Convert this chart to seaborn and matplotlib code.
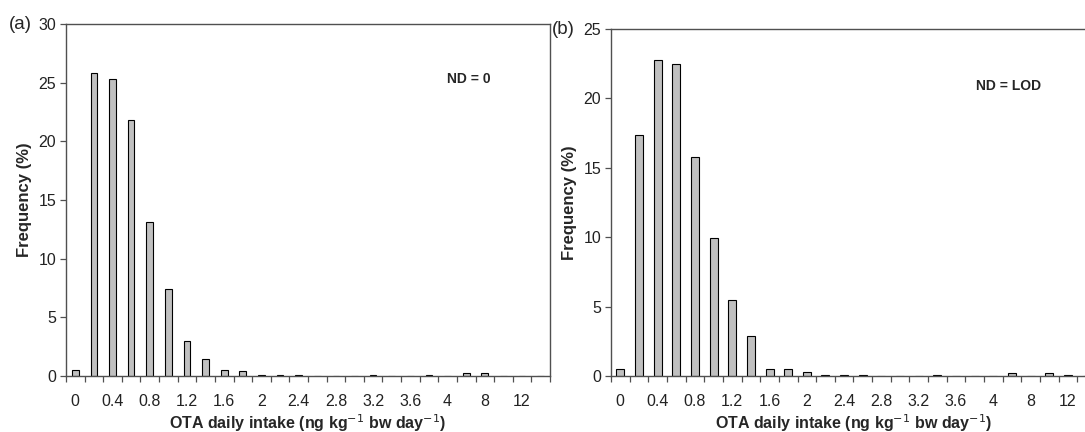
import numpy as np
import pandas as pd
import matplotlib
matplotlib.use("Agg")
import matplotlib.pyplot as plt
import seaborn as sns

# categorias del eje x (intervalos de ingesta)
categorias = ["0", "0.2", "0.4", "0.6", "0.8", "1", "1.2", "1.4", "1.6", "1.8",
              "2", "2.2", "2.4", "2.6", "2.8", "3", "3.2", "3.4", "3.6", "3.8",
              "4", "6", "8", "10", "12", "14"]

# frecuencias (%) panel a: ND = 0
freq_nd0 = [0.5, 25.8, 25.3, 21.8, 13.1, 7.4, 2.95, 1.45, 0.55, 0.4,
            0.12, 0.12, 0.12, 0, 0, 0, 0.1, 0, 0, 0.1,
            0, 0.28, 0.28, 0, 0, 0]

# frecuencias (%) panel b: ND = LOD
freq_lod = [0.5, 17.4, 22.8, 22.5, 15.75, 9.95, 5.5, 2.9, 0.5, 0.5,
            0.28, 0.08, 0.08, 0.08, 0, 0, 0, 0.08, 0, 0,
            0, 0.2, 0, 0.2, 0.1, 0]

sns.set_style("white")
plt.rcParams['font.family'] = ['Liberation Sans', 'DejaVu Sans']

fig = plt.figure(figsize=(10.85, 4.32), dpi=100)
ax_a = fig.add_axes([0.0608, 0.1296, 0.4461, 0.8148])
ax_b = fig.add_axes([0.5631, 0.1296, 0.4470, 0.8032])

color_linea = '#505050'
paneles = [
    (ax_a, freq_nd0, 30, "ND = 0", 0.36, (0.833, 0.843)),
    (ax_b, freq_lod, 25, "ND = LOD", 0.43, (0.82, 0.835)),
]

for ax, freq, ymax, nota, ancho, pos_nota in paneles:
    df = pd.DataFrame({'intake': categorias, 'freq': freq})
    sns.barplot(data=df, x='intake', y='freq', order=categorias, ax=ax,
                color='#c0c0c0', edgecolor='black', linewidth=0.8,
                width=ancho, saturation=1)
    ax.set_xlim(-0.5, len(categorias) - 0.5)
    ax.set_ylim(0, ymax)
    ax.set_yticks(np.arange(0, ymax + 1, 5))
    ax.set_xticks(range(0, len(categorias), 2), categorias[::2])
    ax.set_xticks(np.arange(-0.5, len(categorias), 1), minor=True)
    ax.tick_params(axis='x', which='major', length=0, pad=13, labelsize=11.5,
                   colors='#222222')
    ax.tick_params(axis='x', which='minor', length=4, width=0.9, direction='out',
                   color=color_linea, bottom=True)
    ax.tick_params(axis='y', length=4, width=0.9, direction='out', left=True,
                   pad=3, labelsize=11.5, colors='#222222')
    ax.tick_params(axis='y', color=color_linea)
    for lado in ax.spines.values():
        lado.set_visible(True)
        lado.set_color(color_linea)
        lado.set_linewidth(1.0)
    ax.set_xlabel("OTA daily intake (ng kg$^{-1}$ bw day$^{-1}$)",
                  fontsize=11.5, fontweight='bold', labelpad=2)
    ax.set_ylabel("Frequency (%)", fontsize=12, fontweight='bold', labelpad=5)
    ax.text(pos_nota[0], pos_nota[1], nota, transform=ax.transAxes,
            fontsize=10, fontweight='bold', ha='center', va='center')

fig.text(0.0185, 0.944, "(a)", fontsize=13.5, ha='center', va='center')
fig.text(0.5195, 0.932, "(b)", fontsize=13.5, ha='center', va='center')

plt.savefig("out.png", dpi=100)
